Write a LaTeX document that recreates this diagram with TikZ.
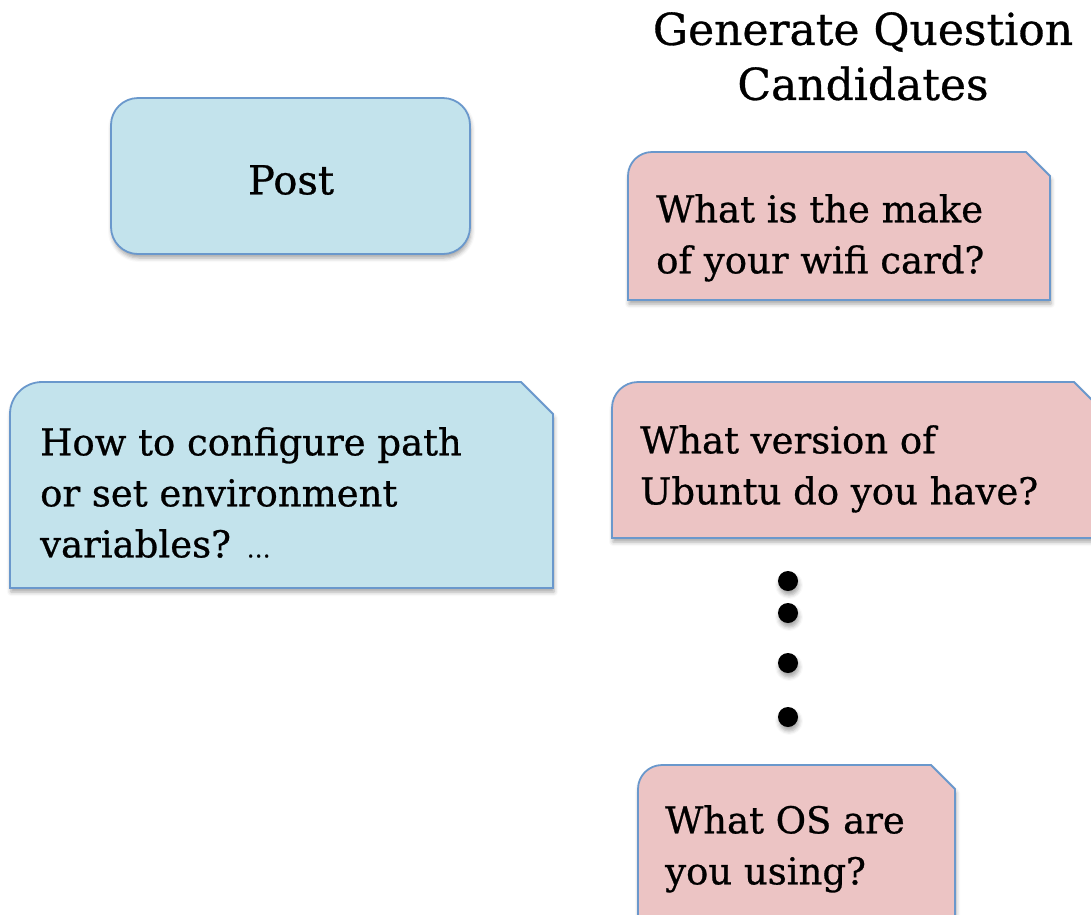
\documentclass[tikz,border=0pt]{standalone}
\usepackage{fontspec}
\setmainfont{DejaVu Serif}[FakeBold=0.7]
\usetikzlibrary{shadows.blur}

\definecolor{postblue}{HTML}{C3E3EC}
\definecolor{candred}{HTML}{ECC4C4}
\definecolor{cardline}{HTML}{6A98CC}

% card: top-left corner rounded, top-right corner cut off
\newcommand{\qcard}[6]{%
  \draw[#1] (#2,#5) -- (#2,#3+#6) arc[start angle=180, end angle=270, radius=#6]
    -- (#4-#6,#3) -- (#4,#3+#6) -- (#4,#5) -- cycle;}

\begin{document}
\begin{tikzpicture}[x=1pt, y=-1pt,
  myshadow/.style={blur shadow={shadow xshift=1pt, shadow yshift=-4pt, shadow blur radius=4pt, shadow opacity=35}},
  postbox/.style={fill=postblue, draw=cardline, line width=1.8pt, rounded corners=27pt, myshadow},
  bluecard/.style={fill=postblue, draw=cardline, line width=1.8pt, myshadow},
  redcard/.style={fill=candred, draw=cardline, line width=1.8pt, myshadow},
  qtext/.style={font=\fontsize{37}{51}\selectfont, align=left, inner sep=0pt, anchor=north west},
  mytitle/.style={font=\fontsize{44}{55}\selectfont, align=center, inner sep=0pt, anchor=north},
  dot/.style={fill=black, myshadow}
  ]
  \useasboundingbox (0,0) rectangle (1091,914);

  \node[mytitle] (gen) at (863,12) {Generate Question\\Candidates};

  \draw[postbox] (111,98) rectangle (470,254);
  \node[font=\fontsize{40}{48}\selectfont] (post) at (291,180) {Post};

  \qcard{bluecard}{10}{382}{553}{588}{32}
  \node[qtext] (path) at (40,427) {How to configure path\\or set environment\\variables? {\fontsize{24}{24}\selectfont …}};

  \qcard{redcard}{628}{152}{1050}{300}{24}
  \node[qtext] (wifi) at (656,194) {What is the make\\of your wifi card?};

  \qcard{redcard}{612}{382}{1100}{538}{26}
  \node[qtext] (ubuntu) at (640,425) {What version of\\Ubuntu do you have?};

  \foreach \y in {581,613,663,717}
    \fill[dot] (788,\y) circle[radius=10];

  \qcard{redcard}{638}{765}{955}{930}{24}
  \node[qtext] (os) at (665,805) {What OS are\\you using?};

\end{tikzpicture}
\end{document}
